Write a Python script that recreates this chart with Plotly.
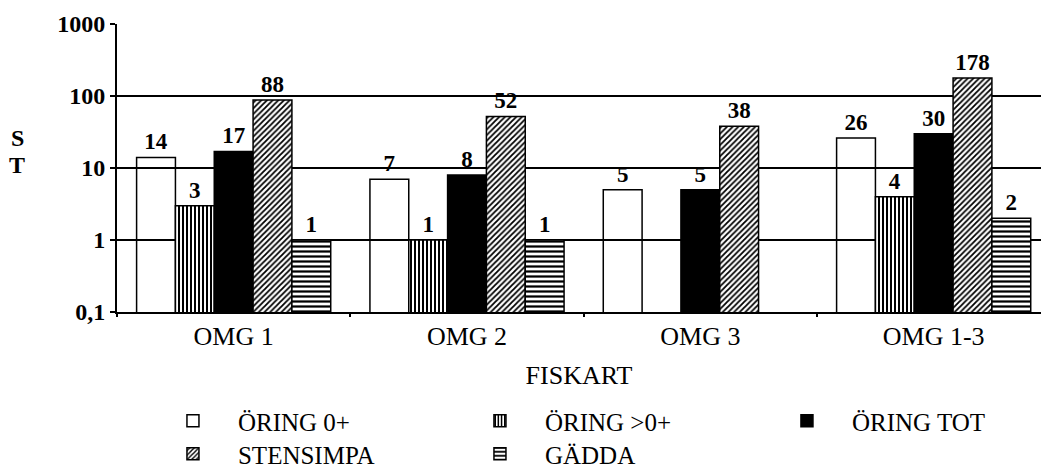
import plotly.graph_objects as go

categories = ["OMG 1", "OMG 2", "OMG 3", "OMG 1-3"]
series_names = ["ÖRING 0+", "ÖRING >0+", "ÖRING TOT", "STENSIMPA", "GÄDDA"]
oring_0 = [14, 7, 5, 26]
oring_gt0 = [3, 1, None, 4]
oring_tot = [17, 8, 5, 30]
stensimpa = [88, 52, 38, 178]
gadda = [1, 1, None, 2]
y_tickvals = [0.1, 1, 10, 100, 1000]
y_ticktext = ["0,1", "1", "10", "100", "1000"]

FONT = "Liberation Serif"
values = [oring_0, oring_gt0, oring_tot, stensimpa, gadda]
styles = [
    dict(color="rgba(255,255,255,0)"),
    dict(color="white", pattern=dict(shape="|", fgcolor="black", bgcolor="white", size=4, solidity=0.5, fillmode="replace")),
    dict(color="black"),
    dict(color="white", pattern=dict(shape="/", fgcolor="black", bgcolor="white", size=4, solidity=0.45, fillmode="replace")),
    dict(color="white", pattern=dict(shape="-", fgcolor="black", bgcolor="white", size=5, solidity=0.45, fillmode="replace")),
]
legends = ["legend", "legend", "legend", "legend2", "legend2"]
legend_widths = [212, 212, 150, 212, 150]

fig = go.Figure()
for name, vals, st, lg, lw in zip(series_names, values, styles, legends, legend_widths):
    fig.add_trace(go.Bar(
        x=categories, y=vals, name=name, legend=lg, legendwidth=lw,
        marker=dict(line=dict(color="black", width=1.5), **st),
        texttemplate="%{y}", textposition="outside", constraintext="none",
        textfont=dict(family=FONT, size=23, color="black", weight="bold"),
        cliponaxis=False,
    ))

legend_common = dict(
    orientation="h", xanchor="left", yanchor="middle", x=0.0335,
    font=dict(family=FONT, size=25, color="black"),
    itemwidth=80, bgcolor="rgba(0,0,0,0)",
    traceorder="normal",
)

fig.update_layout(
    width=1041, height=470,
    margin=dict(l=117, r=0, t=24, b=158, autoexpand=False),
    paper_bgcolor="white", plot_bgcolor="white",
    barmode="group", bargap=0.168, bargroupgap=0,
    font=dict(family=FONT, color="black"),
    showlegend=True,
    legend=dict(y=(312 - 421) / 288, **legend_common),
    legend2=dict(y=(312 - 454) / 288, **legend_common),
    xaxis=dict(
        range=[-0.5, 3.46], showline=True, linecolor="black", linewidth=2,
        ticks="outside", tickson="boundaries", ticklen=3, tickwidth=1.5, tickcolor="black",
        tickfont=dict(family=FONT, size=26, color="black"),
        showgrid=False, automargin=False,
        title=dict(text="FISKART", font=dict(family=FONT, size=26, color="black"), standoff=16),
    ),
    yaxis=dict(
        type="log", range=[-1, 3], tickvals=y_tickvals, ticktext=y_ticktext,
        showline=True, linecolor="black", linewidth=2,
        ticks="outside", ticklen=5, tickwidth=1.5, tickcolor="black",
        tickfont=dict(family=FONT, size=24, color="black", weight="bold"),
        showgrid=True, gridcolor="black", gridwidth=1.5, zeroline=False, automargin=False,
    ),
    annotations=[
        dict(text="S", xref="paper", yref="paper", x=-0.108, y=(312 - 138) / 288,
             xanchor="center", yanchor="middle",
             showarrow=False, font=dict(family=FONT, size=24, color="black", weight="bold")),
        dict(text="T", xref="paper", yref="paper", x=-0.108, y=(312 - 165) / 288,
             xanchor="center", yanchor="middle",
             showarrow=False, font=dict(family=FONT, size=24, color="black", weight="bold")),
    ],
)

fig.write_html("out.html")
